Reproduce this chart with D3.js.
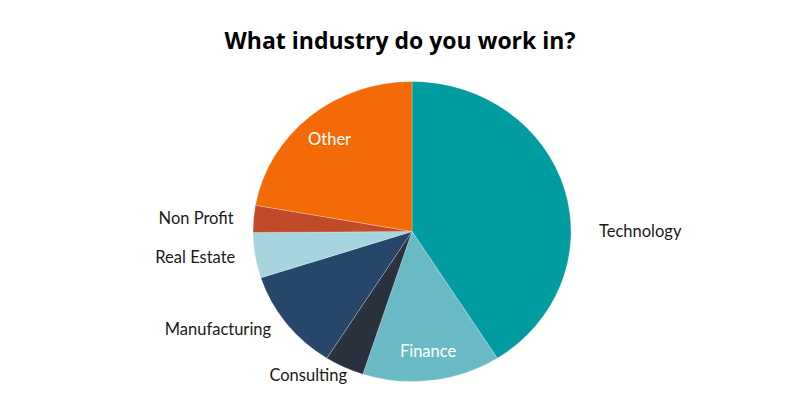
<!DOCTYPE html>
<html>
<head>
<meta charset="utf-8">
<script src="https://cdn.jsdelivr.net/npm/d3@7"></script>
<style>
  body { margin: 0; background: #fff; }
  svg { display: block; }
</style>
</head>
<body>
<div id="chart"></div>
<script>
//////////////////////////////////////////////////////////////
//////////////////////// Data ////////////////////////////////
//////////////////////////////////////////////////////////////

var industries = ["Technology", "Finance", "Consulting", "Manufacturing", "Real Estate", "Non Profit", "Other"],
    shares = [41, 14, 4, 11, 4.9, 2.9, 22.2],
    sliceColors = ["#009C9F", "#69BAC4", "#29323D", "#27476A", "#A6D5DD", "#BF4B28", "#F46A06"],
    insideLabels = ["Finance", "Other"];

//////////////////////////////////////////////////////////////
//////////////////////// Setup ///////////////////////////////
//////////////////////////////////////////////////////////////

var width = 800,
    height = 400,
    cx = 412,
    cy = 231.5,
    radius = 150,
    stretchX = 159 / 150, //the pie is a little wider than it is tall
    labelGapLeft = 20,
    labelGapRight = 28;

var svg = d3.select("#chart").append("svg")
    .attr("width", width)
    .attr("height", height);

svg.append("text")
    .attr("x", width / 2)
    .attr("y", 49)
    .style("text-anchor", "middle")
    .style("font-family", "'Open Sans', sans-serif")
    .style("font-weight", 700)
    .style("font-size", "23px")
    .attr("fill", "#000")
    .text("What industry do you work in?");

var pie = d3.pie().sort(null).value(function(d) { return d; });
var arcs = pie(shares);

var arc = d3.arc().innerRadius(0).outerRadius(radius);

//Slices
svg.append("g")
    .attr("transform", "translate(" + cx + "," + cy + ") scale(" + stretchX + ",1)")
  .selectAll("path")
    .data(arcs)
    .enter().append("path")
    .attr("d", arc)
    .attr("fill", function(d, i) { return sliceColors[i]; })
    .attr("stroke", "#fff")
    .attr("stroke-width", 0.4)
    .attr("stroke-opacity", 0.6);

//////////////////////////////////////////////////////////////
//////////////////////// Labels //////////////////////////////
//////////////////////////////////////////////////////////////

var eps = 0.05;
function labelAngle(d) {
    //a slice reaching well across 3 or 9 o'clock gets its label there
    var right = Math.PI / 2, left = 3 * Math.PI / 2;
    if (d.startAngle < right - eps && d.endAngle > right + eps) return right;
    if (d.startAngle < left - eps && d.endAngle > left + eps) return left;
    return (d.startAngle + d.endAngle) / 2;
}

var labels = svg.append("g")
    .selectAll("text")
    .data(arcs)
    .enter().append("text")
    .style("font-family", "Lato, sans-serif")
    .style("font-size", "16.5px")
    .attr("dy", ".35em")
    .each(function(d, i) {
        var name = industries[i],
            el = d3.select(this);
        if (insideLabels.indexOf(name) > -1) {
            var a = (d.startAngle + d.endAngle) / 2, r = 121;
            el.attr("x", cx + Math.sin(a) * r * stretchX)
              .attr("y", cy - Math.cos(a) * r)
              .style("text-anchor", "middle")
              .attr("fill", "#fff");
        } else {
            var a = labelAngle(d),
                y = cy - Math.cos(a) * 159,
                t = Math.min(1, Math.abs(y - cy) / radius),
                edge = Math.sqrt(1 - t * t) * radius * stretchX,
                side = Math.sin(a) >= 0 ? 1 : -1;
            el.attr("x", cx + side * (edge + (side > 0 ? labelGapRight : labelGapLeft)))
              .attr("y", y)
              .style("text-anchor", side > 0 ? "start" : "end")
              .attr("fill", "#1a1a1a");
        }
        el.text(name);
    });
</script>
</body>
</html>
